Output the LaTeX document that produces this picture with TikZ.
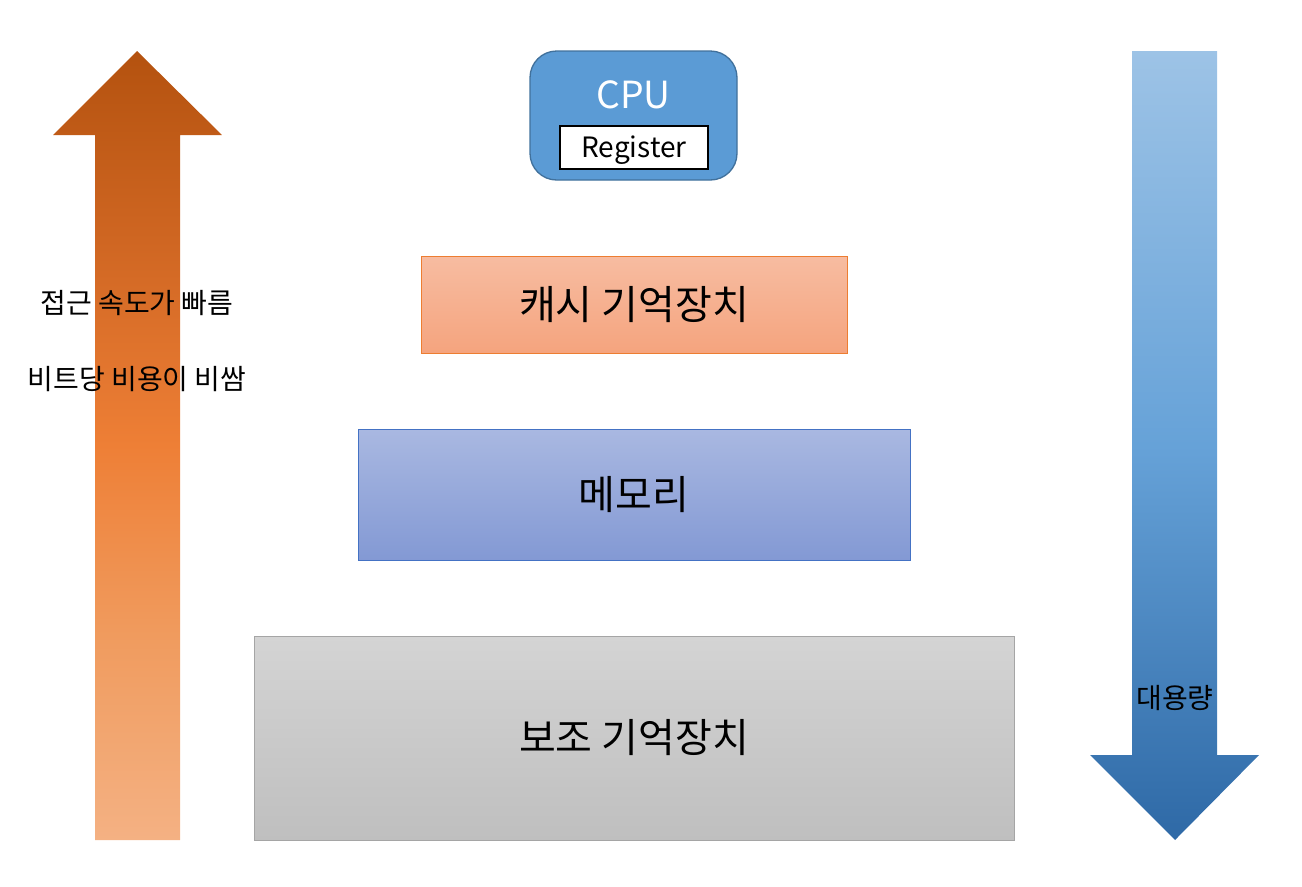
\documentclass[tikz,border=0pt]{standalone}
\usepackage{fontspec}
\setmainfont{Noto Sans CJK KR}
\definecolor{arrA}{HTML}{B4520F}
\definecolor{arrA2}{HTML}{CF6622}
\definecolor{arrB}{HTML}{EE7F36}
\definecolor{arrB2}{HTML}{F09B5E}
\definecolor{arrC}{HTML}{F4B183}
\definecolor{blA}{HTML}{9DC3E6}
\definecolor{blB}{HTML}{66A2D8}
\definecolor{blC}{HTML}{2E69A6}
\definecolor{cpuF}{HTML}{5B9BD5}
\definecolor{cpuD}{HTML}{41719C}
\definecolor{caT}{HTML}{F7BCA1}
\definecolor{caB}{HTML}{F5A47E}
\definecolor{caD}{HTML}{ED7D31}
\definecolor{meT}{HTML}{A9B8E1}
\definecolor{meB}{HTML}{8399D4}
\definecolor{meD}{HTML}{4472C4}
\definecolor{boT}{HTML}{D4D4D4}
\definecolor{boB}{HTML}{BFBFBF}
\definecolor{boD}{HTML}{A5A5A5}
\pgfdeclareverticalshading{orangeup}{100bp}{color(0bp)=(arrC); color(25bp)=(arrC); color(38bp)=(arrB2); color(50bp)=(arrB); color(63bp)=(arrA2); color(75bp)=(arrA); color(100bp)=(arrA)}
\pgfdeclareverticalshading{bluedown}{100bp}{color(0bp)=(blC); color(25bp)=(blC); color(50bp)=(blB); color(75bp)=(blA); color(100bp)=(blA)}
\tikzset{
  levelbox/.style={rectangle, inner sep=0pt, line width=0.6pt},
  bigtext/.style={font=\fontsize{30pt}{36pt}\selectfont, text=black},
  smalltext/.style={font=\fontsize{21pt}{25pt}\selectfont, text=black},
}
\begin{document}
\begin{tikzpicture}[x=0.75pt,y=-0.75pt]
\useasboundingbox (0,0) rectangle (1302,886);
% left arrow
\shade[shading=orangeup]
  (95,840) -- (95,135) -- (53,135) -- (137,51) -- (222,135) -- (180,135) -- (180,840) -- cycle;
% right arrow
\shade[shading=bluedown]
  (1132,51) -- (1217,51) -- (1217,755) -- (1259,755) -- (1175,840) -- (1090,755) -- (1132,755) -- cycle;
% CPU
\node[levelbox, rounded corners=20pt, fill=cpuF, draw=cpuD, line width=1pt,
  minimum width=207*0.75pt, minimum height=129*0.75pt] (cpu) at (633.5,115.5) {};
\node[font=\fontsize{28pt}{32pt}\selectfont, text=white] (cputxt) at (633.5,95) {CPU};
\node[levelbox, fill=white, draw=black, line width=1.2pt,
  minimum width=148*0.75pt, minimum height=43*0.75pt] (reg) at (634,147.5) {};
\node[font=\fontsize{21pt}{24pt}\selectfont] (regtxt) at (634,150) {Register};
% cache
\node[levelbox, top color=caT, bottom color=caB, draw=caD,
  minimum width=426*0.75pt, minimum height=97*0.75pt, bigtext] (cache) at (634,304.5) {캐시 기억장치};
% memory
\node[levelbox, top color=meT, bottom color=meB, draw=meD,
  minimum width=552*0.75pt, minimum height=131*0.75pt, bigtext] (mem) at (634,494.5) {메모리};
% secondary storage
\node[levelbox, top color=boT, bottom color=boB, draw=boD,
  minimum width=760*0.75pt, minimum height=204*0.75pt, bigtext] (aux) at (634,738) {보조 기억장치};
% labels
\node[smalltext] (speed) at (137,303) {접근 속도가 빠름};
\node[smalltext] (cost) at (137,379) {비트당 비용이 비쌈};
\node[smalltext] (cap) at (1175,698) {대용량};
\end{tikzpicture}
\end{document}
